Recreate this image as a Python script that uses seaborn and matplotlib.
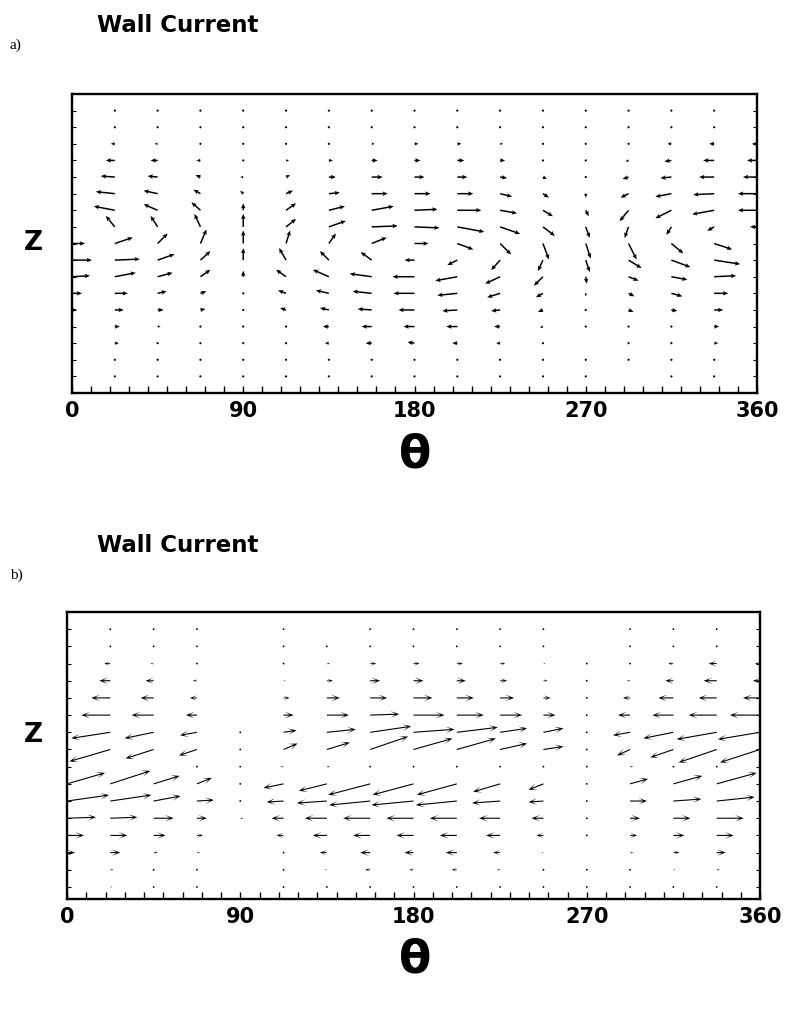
import numpy as np
import matplotlib
matplotlib.use("Agg")
import matplotlib.pyplot as plt
import seaborn as sns

sns.set_theme(style="ticks")
plt.rcParams['font.family'] = ['DejaVu Sans']
plt.rcParams['text.color'] = 'black'
plt.rcParams['xtick.color'] = 'black'
plt.rcParams['ytick.color'] = 'black'

nan = np.nan

# ---- grid ----
THETA = [0, 22.5, 45, 67.5, 90, 112.5, 135, 157.5, 180,
         202.5, 225, 247.5, 270, 292.5, 315, 337.5, 360]
Z_A = [17, 16, 15, 14, 13, 12, 11, 10, 9, 8, 7, 6, 5, 4, 3, 2, 1]   # rows, top -> bottom
Z_B = [16, 15, 14, 13, 12, 11, 10, 9, 8, 7, 6, 5, 4, 3, 2, 1]

# ---- panel a: wall current, one list per theta column (top -> bottom) ----
U_A = [
    [0, -1, -5, -10, -14, -19, -19, -7, 13, 20, 18, 10, 5, 2, 1, 0, 0],        # 0
    [0, 0, -4, -9, -14, -19, -21, -9, 18, 25, 21, 13, 9, 5, 4, 1, 0],          # 22.5
    [0, -1, -3, -7, -10, -14, -14, -7, 10, 17, 15, 9, 6, 3, 1, 0, 0],          # 45
    [0, 0, 0, -4, -5, -7, -9, -6, 6, 10, 10, 6, 5, 2, 1, 0, 0],                # 67.5
    [0, 0, 0, -1, -3, -3, 0, 0, 0, 0, 0, -1, 0, 0, 0, 0, 0],                   # 90
    [0, 0, 0, 3, 4, 7, 10, 10, 4, -7, -10, -8, -6, -2, 0, 0, 0],               # 112.5
    [0, 0, 1, 4, 7, 11, 16, 17, 7, -9, -16, -13, -9, -6, -4, -1, 0],           # 135
    [0, 0, 3, 6, 11, 16, 22, 26, 15, -11, -22, -19, -14, -10, -6, -2, 0],      # 157.5
    [0, 0, 4, 6, 10, 16, 23, 25, 14, -10, -22, -21, -16, -11, -7, -1, 0],      # 180
    [0, 0, 4, 7, 10, 16, 24, 27, 16, -10, -22, -20, -15, -11, -5, -1, 0],      # 202.5
    [0, 0, 3, 5, 7, 12, 17, 20, 11, -9, -15, -13, -9, -6, -4, -1, 0],          # 225
    [0, 0, 0, 2, 4, 6, 10, 12, 6, -5, -9, -7, -5, -3, -1, 0, 0],               # 247.5
    [0, 0, 0, 0, 0, 0, 3, 4, 5, 4, 1, 0, 0, 0, nan, 0, 0],                     # 270
    [0, 0, 0, -3, -6, -8, -9, -4, 8, 13, 10, 6, 5, 2, 0, 0, nan],              # 292.5
    [0, 0, -4, -7, -11, -16, -16, -5, 12, 19, 16, 11, 6, 2, 0, 0, 0],          # 315
    [0, 0, -5, -11, -15, -21, -22, -7, 18, 26, 22, 14, 9, 5, 4, 2, 0],         # 337.5
    [0, -1, -5, -10, -14, -19, -19, -7, 13, 20, 18, 10, 5, 2, 1, 0, 0],        # 360
]
V_A = [
    [0, 0, 0, 0, 0, 0, 0, 0, 0, 0, 1, 0, 0, 0, 0, 0, 0],
    [0, 0, 0, 0, 1, 2, 4, 11, 6, 1, 4, 0, 0, 0, 0, 0, 0],
    [0, 0, 0, 0, 1, 3, 6, 11, 10, 6, 4, 2, 0, 0, 0, 0, 0],
    [1, 0, 0, 0, 2, 4, 8, 13, 14, 9, 7, 2, 1, 0, 0, 0, 0],
    [0, 0, 0, 0, 0, 3, 7, 13, 13, 12, 6, 2, 1, 0, 0, 0, 0],
    [0, 0, 0, 0, 2, 3, 7, 8, 13, 12, 7, 3, 2, 0, 0, 0, 0],
    [0, 0, 0, 0, 0, 1, 4, 6, 10, 9, 7, 3, 2, 0, 0, 0, 0],
    [0, 0, 0, 0, 0, 0, 4, 1, 6, 8, 3, 2, 1, 0, 0, 0, 0],
    [0, 0, 0, 0, 0, 0, 1, -1, 0, 0, 0, 0, 0, 0, 1, 0, 0],
    [0, 0, 0, 0, 0, 0, 0, -5, -6, -5, -4, -2, -1, 0, 0, 0, 0],
    [0, 0, 0, 0, -1, -3, -3, -7, -11, -10, -7, -4, -1, 0, 0, 0, 0],
    [0, 0, 0, -1, -2, -4, -6, -9, -16, -11, -9, -4, -2, -1, 0, 0, 0],
    [0, 0, 0, 0, -1, -4, -6, -11, -15, -12, -7, -3, -1, 0, nan, 0, 0],
    [0, 0, 0, -1, -2, -4, -11, -11, -16, -8, -4, -3, -2, 0, 0, 0, nan],
    [0, 0, 0, -1, -1, -3, -8, -8, -10, -7, -3, -3, -1, 0, 0, 0, 0],
    [0, 0, 0, 0, 0, -1, -4, -4, -6, -4, 1, 0, 0, 0, 0, 0, 0],
    [0, 0, 0, 0, 0, 0, 0, 0, 0, 0, 1, 0, 0, 0, 0, 0, 0],
]

# ---- panel b ----
U_B = [
    [nan, -2, -5, -7, -17, -30, -42, -40, 0, 38, 42, 29, 17, 8, 2, 0],        # 0
    [0, 0, -6, -11, -19, -29, -39, -41, nan, 40, 41, 27, 17, 10, 3, 2],       # 22.5
    [0, 0, -3, -8, -13, -22, -29, -28, nan, 26, 27, 20, 12, 4, 0, 0],         # 45
    [0, 0, 0, -4, -7, -11, -17, -18, 0, 15, 17, 10, 6, 3, 0, 0],              # 67.5
    [nan, nan, nan, nan, nan, nan, 0, 0, 0, 0, 0, 3, nan, nan, nan, nan],     # 90
    [0, 0, 0, 2, 6, 10, 13, 14, -3, -20, -17, -12, -7, -1, 0, 0],             # 112.5
    [nan, 0, 3, 6, 13, 22, 29, 23, 3, -28, -30, -22, -14, -7, -2, 0],         # 135
    [0, 0, 6, 10, 17, 29, 41, 38, 1, -42, -41, -27, -17, -10, -5, -1],        # 157.5
    [0, 0, 6, 10, 19, 31, 41, 39, 0, -41, -42, -27, -17, -9, -4, -1],         # 180
    [0, 0, 6, 9, 17, 27, 41, 39, 0, -40, -41, -27, -17, -11, -5, 0],          # 202.5
    [0, 0, 5, 7, 14, 22, 27, 27, 0, -27, -28, -21, -14, -7, -3, 0],           # 225
    [0, 0, 2, 4, 7, 12, 20, 20, 0, -15, -15, -12, -7, -2, 0, 0],              # 247.5
    [nan, nan, 0, 0, 0, 0, 0, 0, 0, 0, 0, 0, 0, nan, 0, 0],                   # 270
    [0, 0, 0, -3, -7, -12, -17, -13, 3, 18, 17, 10, 7, 3, 0, 0],              # 292.5
    [0, 0, -5, -8, -15, -21, -30, -23, 0, 29, 28, 17, 11, 6, 2, 0],           # 315
    [0, 0, -8, -13, -18, -28, -40, -38, 0, 40, 38, 27, 17, 9, 3, 0],          # 337.5
    [nan, -2, -5, -7, -17, -30, -42, -40, 0, 38, 42, 29, 17, 8, 2, 0],        # 360
]
V_B = [
    [nan, 0, 0, 0, 0, 0, -7, -13, 0, 11, 6, 1, 0, 0, 0, 0],
    [0, 0, 0, 0, 0, 0, -6, -12, nan, 13, 6, 1, 0, 0, 0, 0],
    [0, 0, 0, 0, 0, 0, -6, -9, nan, 8, 5, 0, 0, 0, 0, 0],
    [0, 0, 0, 0, 0, 0, -3, -6, 0, 6, 1, 0, 0, 0, 0, 0],
    [nan, nan, nan, nan, nan, nan, 0, 0, 0, 0, 0, 0, nan, nan, nan, nan],
    [0, 0, 0, 0, 0, 0, 2, 6, 0, -4, -1, 0, 0, 0, 0, 0],
    [nan, 0, 0, 0, 0, 0, 3, 7, 0, -7, -2, 0, 0, 0, 0, 0],
    [0, 0, 0, 0, 0, 1, 6, 13, 0, -11, -4, 0, 0, 0, 0, 0],
    [0, 0, 0, 0, 0, 0, 3, 11, 0, -11, -4, 0, 0, 0, 0, 0],
    [0, 0, 0, 0, 0, 0, 5, 11, 0, -11, -4, 0, 0, 0, 0, 0],
    [0, 0, 0, 0, 0, 0, 4, 6, 0, -8, -2, 0, 0, 0, 0, 0],
    [0, 0, 0, 0, 0, 0, 4, 3, 0, -6, -1, 0, 0, 0, 0, 0],
    [nan, nan, 0, 0, 0, 0, 0, 0, 0, 0, 0, 0, 0, nan, 0, 0],
    [0, 0, 0, 0, 0, 0, -3, -6, 0, 5, 0, 0, 0, 0, 0, 0],
    [0, 0, 0, 0, 0, 0, -6, -8, 0, 8, 2, 0, 0, 0, 0, 0],
    [0, 0, 0, 0, 0, 0, -7, -13, 0, 11, 4, 0, 0, 0, 0, 0],
    [nan, 0, 0, 0, 0, 0, -7, -13, 0, 11, 6, 1, 0, 0, 0, 0],
]

XLABELS = ["0", "90", "180", "270", "360"]

W, H = 785, 1014
fig = plt.figure(figsize=(W / 100, H / 100), dpi=100)


def px_axes(left, top, right, bottom):
    return fig.add_axes([left / W, 1 - bottom / H, (right - left) / W, (bottom - top) / H])


def draw_panel(ax, z, u_cols, v_cols, ylim, arrow_kw):
    X, Y = np.meshgrid(THETA, z)
    U = np.ma.masked_invalid(np.array(u_cols, dtype=float).T)
    V = np.ma.masked_invalid(np.array(v_cols, dtype=float).T)
    ax.quiver(X, Y, U, V, angles='uv', pivot='tail', units='dots',
              scale_units='dots', scale=1, color='black', **arrow_kw)
    ax.set_xlim(0, 360)
    ax.set_ylim(*ylim)
    ax.set_xticks([0, 90, 180, 270, 360])
    ax.set_xticklabels(XLABELS, fontsize=15, fontweight='bold', color='black')
    ax.set_xticks(np.arange(0, 361, 10), minor=True)
    ax.set_yticks([])
    ax.set_yticks(z, minor=True)
    ax.tick_params(axis='x', which='both', direction='in', length=5, width=1,
                   pad=6, colors='black')
    ax.tick_params(axis='y', which='minor', direction='in', length=3, width=0.8,
                   left=True, right=True)
    for s in ax.spines.values():
        s.set_linewidth(1.7)
        s.set_color('black')


# panel a
ax_a = px_axes(72, 94, 757, 393)
draw_panel(ax_a, Z_A, U_A, V_A, (0, 18),
           dict(width=1.5, headwidth=3, headlength=3.5, headaxislength=3,
                minlength=1.6, minshaft=1))

# panel b
ax_b = px_axes(67, 612, 760, 899)
draw_panel(ax_b, Z_B, U_B, V_B, (0.3, 17),
           dict(width=1.1, headwidth=6, headlength=8, headaxislength=3.5,
                minlength=1.8, minshaft=1))


def ftext(x, y, s, **kw):
    fig.text(x / W, 1 - y / H, s, color='black', **kw)


for ty, ly, zy, thy, lab in [(25, 45, 243, 455, "a)"), (545, 575, 735, 960, "b)")]:
    ftext(97, ty, "Wall Current", fontsize=16.5, fontweight='bold', va='center', ha='left')
    ftext(10, ly, lab, fontsize=11, family=['Liberation Serif', 'DejaVu Serif'],
          va='center', ha='left')
    ftext(33, zy, "Z", fontsize=19, fontweight='bold', va='center', ha='center')
    ftext(415, thy, "θ", fontsize=34, fontweight='bold', va='center', ha='center')

fig.savefig("out.png", dpi=100)
